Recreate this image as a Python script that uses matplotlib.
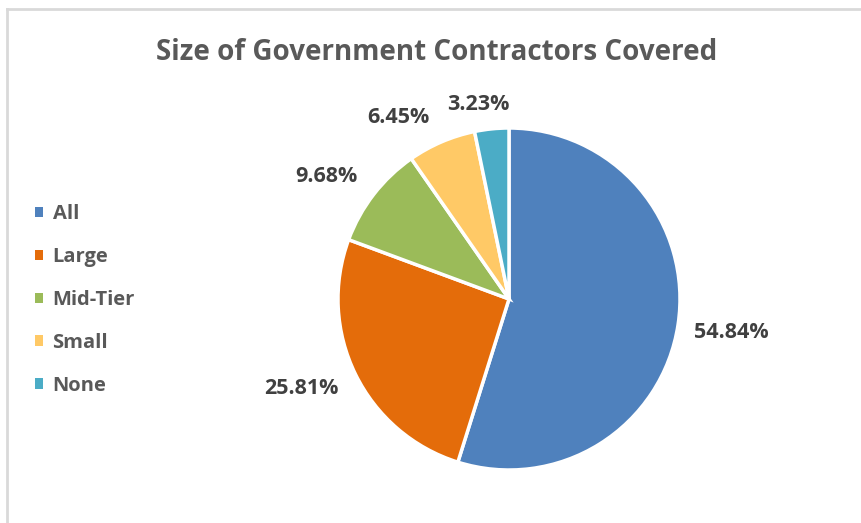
import numpy as np
import matplotlib.pyplot as plt
from matplotlib.lines import Line2D

# Share of government contractor sizes covered
categories = ["All", "Large", "Mid-Tier", "Small", "None"]
shares = [54.84, 25.81, 9.68, 6.45, 3.23]
colors = ["#4F81BD", "#E46C0A", "#9BBB59", "#FFC966", "#4BACC6"]

# where each percentage label sits: (angle in degrees, distance in pie radii)
label_pos = [(-8.6, 1.316), (-156.6, 1.325), (146.1, 1.285), (121.4, 1.244), (98.9, 1.151)]

plt.rcParams['font.family'] = ['Open Sans', 'DejaVu Sans']

W, H, DPI = 861, 523, 100
fig = plt.figure(figsize=(W / DPI, H / DPI), dpi=DPI)
fig.patch.set_facecolor("white")

# chart frame (top and left edges visible)
fig.add_artist(Line2D([6.5 / W, 6.5 / W], [0, 1 - 8.5 / H], transform=fig.transFigure,
                      color="#D9D9D9", lw=2))
fig.add_artist(Line2D([6.5 / W, 1], [1 - 8.5 / H, 1 - 8.5 / H], transform=fig.transFigure,
                      color="#D9D9D9", lw=2))

# pie axes: centre at (509, 299) px, radius 171 px
cx, cy, r, k = 509, 299, 171, 1.4
half = r * k
ax = fig.add_axes([(cx - half) / W, (H - cy - half) / H, 2 * half / W, 2 * half / H])

wedges, _ = ax.pie(shares, colors=colors, startangle=90, counterclock=False,
                   wedgeprops=dict(edgecolor="white", linewidth=2.5))
ax.set_xlim(-k, k)
ax.set_ylim(-k, k)
ax.set_aspect("equal")
ax.axis("off")

for v, (ang, d) in zip(shares, label_pos):
    a = np.deg2rad(ang)
    ax.text(d * np.cos(a), d * np.sin(a), f"{v:.2f}%", ha="center", va="center",
            fontsize=15.5, fontweight="bold", color="#404040")

fig.text(436.5 / W, 1 - 60 / H, "Size of Government Contractors Covered", ha="center",
         va="baseline", fontsize=20, fontweight="bold", color="#595959")

leg = fig.legend(wedges, categories, loc="upper left", bbox_to_anchor=(35 / W, 1 - 204 / H),
                 frameon=False, handlelength=0.42, handleheight=0.42, handletextpad=0.45,
                 labelspacing=1.14, borderaxespad=0, borderpad=0,
                 prop=dict(size=14.5, weight="bold"))
for t in leg.get_texts():
    t.set_color("#595959")
for h in leg.legend_handles:
    h.set_edgecolor("none")

fig.savefig("out.png", dpi=DPI)
